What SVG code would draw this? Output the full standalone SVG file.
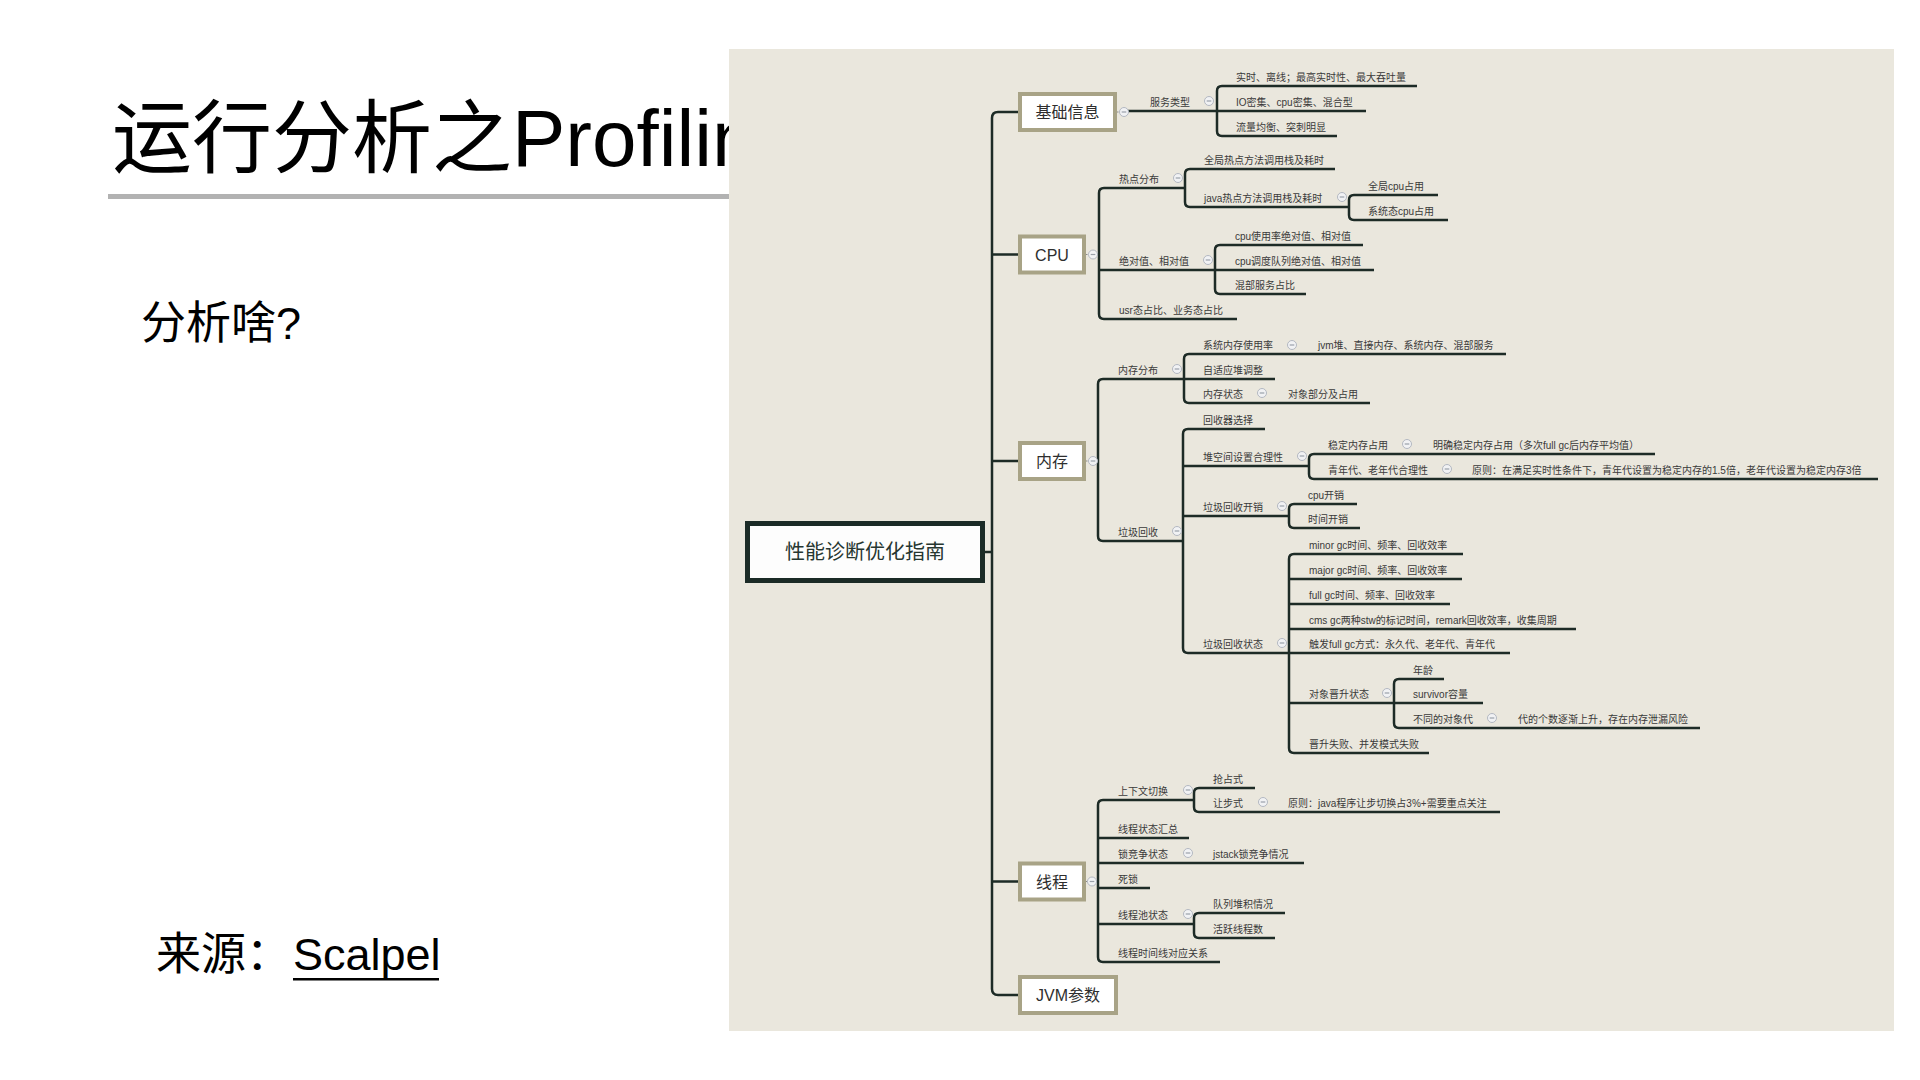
<svg xmlns="http://www.w3.org/2000/svg" xmlns:xlink="http://www.w3.org/1999/xlink" width="1920" height="1080" viewBox="0 0 1920 1080">
<style>
.f{font-family:"Liberation Sans","Noto Sans CJK SC",sans-serif}
.slide{fill:#000}
.t{font-family:"Liberation Sans","Noto Sans CJK SC",sans-serif;font-size:10px;fill:#3a3a3a}
.l1{font-family:"Liberation Sans","Noto Sans CJK SC",sans-serif;font-size:16px;fill:#2e2e2e;text-anchor:middle}
.ln{fill:none;stroke:#1d2b26;stroke-width:2.5}
.box{fill:#ffffff;stroke:#a8a386;stroke-width:4}
.dot{stroke:#8a8a8a;stroke-width:1;stroke-dasharray:1.5 1.5}
</style>
<defs>
<g id="c"><circle r="4.5" fill="#f1f2f4" stroke="#b3b8c1" stroke-width="1"/><path d="M-2.3,0H2.3" stroke="#9aa0a9" stroke-width="1.2"/></g>
</defs>
<rect width="1920" height="1080" fill="#ffffff"/>
<g id="slide-title">
<text class="f slide" x="112" y="166" font-size="80">运行分析之Profiling</text>
<rect x="108" y="194" width="621" height="5" fill="#b2b2b2"/>
</g>
<g id="slide-question"><text class="f slide" x="141" y="339" font-size="45">分析啥?</text></g>
<g id="slide-source">
<text class="f slide" x="156" y="970" font-size="45">来源：</text>
<text class="f slide" x="293" y="970" font-size="45">Scalpel</text>
<rect x="293" y="978" width="146" height="2.5" fill="#000"/>
</g>
<rect id="panel" x="729" y="49" width="1165" height="982" fill="#eae7dd"/>

<g id="connectors">
<path class="ln" d="M1018,112 H998 Q992,112 992,118 V989 Q992,995 998,995 H1018 M992,254.5 H1018 M992,461 H1018 M992,881.5 H1018 M985,552 H992"/>
<path class="dot" d="M1117,112 H1120 M1086,254.5 H1089 M1086,461 H1089 M1086,881.5 H1088"/>
<path class="ln" d="M1128,111 H1366 M1417,86 H1222 Q1217,86 1217,91 V131 Q1217,136 1222,136 H1337"/>
<path class="ln" d="M1097,254.5 H1099 M1185,188 H1104 Q1099,188 1099,193 V314 Q1099,319 1104,319 H1237 M1099,270 H1374 M1363,245 H1220 Q1215,245 1215,250 V289 Q1215,294 1220,294 H1306 M1335,169 H1190 Q1185,169 1185,174 V202 Q1185,207 1190,207 H1349 M1438,195 H1354 Q1349,195 1349,200 V215 Q1349,220 1354,220 H1448"/>
<path class="ln" d="M1097,461 H1098 M1184,379 H1103 Q1098,379 1098,384 V536 Q1098,541 1103,541 H1183 M1506,354 H1189 Q1184,354 1184,359 V398 Q1184,403 1189,403 H1370 M1184,379 H1275 M1265,429 H1188 Q1183,429 1183,434 V648 Q1183,653 1188,653 H1289 M1183,466 H1309 M1183,516 H1289 M1655,454 H1314 Q1309,454 1309,459 V474 Q1309,479 1314,479 H1878 M1357,504 H1294 Q1289,504 1289,509 V523 Q1289,528 1294,528 H1360 M1463,554 H1294 Q1289,554 1289,559 V748 Q1289,753 1294,753 H1429 M1289,579 H1462 M1289,604 H1450 M1289,629 H1576 M1289,653 H1510 M1289,703 H1394 M1444,679 H1399 Q1394,679 1394,684 V723 Q1394,728 1399,728 H1700 M1394,703 H1483"/>
<path class="ln" d="M1096,881.5 H1098 M1194,800 H1103 Q1098,800 1098,805 V957 Q1098,962 1103,962 H1220 M1098,838 H1189 M1098,863 H1304 M1098,888 H1150 M1098,924 H1194 M1255,788 H1199 Q1194,788 1194,793 V807 Q1194,812 1199,812 H1500 M1285,913 H1199 Q1194,913 1194,918 V933 Q1194,938 1199,938 H1275"/>
</g>

<g id="root">
<rect x="747.5" y="523.5" width="235" height="57" fill="#fdfdfd" stroke="#1b2b26" stroke-width="5"/>
<text class="f" x="865" y="559" font-size="20" fill="#263630" text-anchor="middle">性能诊断优化指南</text>
</g>

<g id="n-jichu"><rect class="box" x="1020" y="94" width="95" height="36"/><text class="l1" x="1067.5" y="118">基础信息</text><use xlink:href="#c" x="1124" y="112"/></g>
<g id="n-fuwu"><text class="t" x="1150" y="106">服务类型</text><use xlink:href="#c" x="1209" y="101"/></g>
<g id="n-shishi"><text class="t" x="1236" y="81">实时、离线；最高实时性、最大吞吐量</text></g>
<g id="n-io"><text class="t" x="1236" y="106">IO密集、cpu密集、混合型</text></g>
<g id="n-liuliang"><text class="t" x="1236" y="131">流量均衡、突刺明显</text></g>

<g id="n-cpu"><rect class="box" x="1020" y="236.5" width="64" height="36"/><text class="l1" x="1052" y="260.5">CPU</text><use xlink:href="#c" x="1093" y="254.5"/></g>
<g id="n-redian"><text class="t" x="1119" y="183">热点分布</text><use xlink:href="#c" x="1178" y="178"/></g>
<g id="n-quanju"><text class="t" x="1204" y="164">全局热点方法调用栈及耗时</text></g>
<g id="n-java"><text class="t" x="1204" y="202">java热点方法调用栈及耗时</text><use xlink:href="#c" x="1342" y="197"/></g>
<g id="n-qjcpu"><text class="t" x="1368" y="190">全局cpu占用</text></g>
<g id="n-xtcpu"><text class="t" x="1368" y="215">系统态cpu占用</text></g>
<g id="n-jdz"><text class="t" x="1119" y="265">绝对值、相对值</text><use xlink:href="#c" x="1208" y="260"/></g>
<g id="n-cpusyl"><text class="t" x="1235" y="240">cpu使用率绝对值、相对值</text></g>
<g id="n-cpudd"><text class="t" x="1235" y="265">cpu调度队列绝对值、相对值</text></g>
<g id="n-hunbu"><text class="t" x="1235" y="289">混部服务占比</text></g>
<g id="n-usr"><text class="t" x="1119" y="314">usr态占比、业务态占比</text></g>

<g id="n-neicun"><rect class="box" x="1020" y="443" width="64" height="36"/><text class="l1" x="1052" y="467">内存</text><use xlink:href="#c" x="1093" y="461"/></g>
<g id="n-ncfb"><text class="t" x="1118" y="374">内存分布</text><use xlink:href="#c" x="1177" y="369"/></g>
<g id="n-xtnc"><text class="t" x="1203" y="349">系统内存使用率</text><use xlink:href="#c" x="1292" y="345"/></g>
<g id="n-jvmdui"><text class="t" x="1318" y="349">jvm堆、直接内存、系统内存、混部服务</text></g>
<g id="n-zsy"><text class="t" x="1203" y="374">自适应堆调整</text></g>
<g id="n-nczt"><text class="t" x="1203" y="398">内存状态</text><use xlink:href="#c" x="1262" y="393"/></g>
<g id="n-dxbf"><text class="t" x="1288" y="398">对象部分及占用</text></g>
<g id="n-ljhs"><text class="t" x="1118" y="536">垃圾回收</text><use xlink:href="#c" x="1177" y="531"/></g>
<g id="n-hsqxz"><text class="t" x="1203" y="424">回收器选择</text></g>
<g id="n-dkj"><text class="t" x="1203" y="461">堆空间设置合理性</text><use xlink:href="#c" x="1302" y="456"/></g>
<g id="n-wdnc"><text class="t" x="1328" y="449">稳定内存占用</text><use xlink:href="#c" x="1407" y="444"/></g>
<g id="n-mqwd"><text class="t" x="1433" y="449">明确稳定内存占用（多次full gc后内存平均值）</text></g>
<g id="n-qnd"><text class="t" x="1328" y="474">青年代、老年代合理性</text><use xlink:href="#c" x="1447" y="469"/></g>
<g id="n-yuanze1"><text class="t" x="1472" y="474">原则：在满足实时性条件下，青年代设置为稳定内存的1.5倍，老年代设置为稳定内存3倍</text></g>
<g id="n-hskx"><text class="t" x="1203" y="511">垃圾回收开销</text><use xlink:href="#c" x="1282" y="506"/></g>
<g id="n-cpukx"><text class="t" x="1308" y="499">cpu开销</text></g>
<g id="n-sjkx"><text class="t" x="1308" y="523">时间开销</text></g>
<g id="n-hszt"><text class="t" x="1203" y="648">垃圾回收状态</text><use xlink:href="#c" x="1282" y="643"/></g>
<g id="n-minor"><text class="t" x="1309" y="549">minor gc时间、频率、回收效率</text></g>
<g id="n-major"><text class="t" x="1309" y="574">major gc时间、频率、回收效率</text></g>
<g id="n-full"><text class="t" x="1309" y="599">full gc时间、频率、回收效率</text></g>
<g id="n-cms"><text class="t" x="1309" y="624">cms gc两种stw的标记时间，remark回收效率，收集周期</text></g>
<g id="n-chufa"><text class="t" x="1309" y="648">触发full gc方式：永久代、老年代、青年代</text></g>
<g id="n-jszt"><text class="t" x="1309" y="698">对象晋升状态</text><use xlink:href="#c" x="1387" y="693"/></g>
<g id="n-nianling"><text class="t" x="1413" y="674">年龄</text></g>
<g id="n-survivor"><text class="t" x="1413" y="698">survivor容量</text></g>
<g id="n-btdx"><text class="t" x="1413" y="723">不同的对象代</text><use xlink:href="#c" x="1492" y="718"/></g>
<g id="n-dgs"><text class="t" x="1518" y="723">代的个数逐渐上升，存在内存泄漏风险</text></g>
<g id="n-jssb"><text class="t" x="1309" y="748">晋升失败、并发模式失败</text></g>

<g id="n-xiancheng"><rect class="box" x="1020" y="863.5" width="64" height="36"/><text class="l1" x="1052" y="887.5">线程</text><use xlink:href="#c" x="1092" y="881.5"/></g>
<g id="n-sxw"><text class="t" x="1118" y="795">上下文切换</text><use xlink:href="#c" x="1188" y="790"/></g>
<g id="n-qzs"><text class="t" x="1213" y="783">抢占式</text></g>
<g id="n-rbs"><text class="t" x="1213" y="807">让步式</text><use xlink:href="#c" x="1263" y="802"/></g>
<g id="n-yuanze2"><text class="t" x="1288" y="807">原则：java程序让步切换占3%+需要重点关注</text></g>
<g id="n-xczthz"><text class="t" x="1118" y="833">线程状态汇总</text></g>
<g id="n-sjz"><text class="t" x="1118" y="858">锁竞争状态</text><use xlink:href="#c" x="1188" y="853"/></g>
<g id="n-jstack"><text class="t" x="1213" y="858">jstack锁竞争情况</text></g>
<g id="n-sisuo"><text class="t" x="1118" y="883">死锁</text></g>
<g id="n-xccz"><text class="t" x="1118" y="919">线程池状态</text><use xlink:href="#c" x="1188" y="914"/></g>
<g id="n-dlduiji"><text class="t" x="1213" y="908">队列堆积情况</text></g>
<g id="n-hyxc"><text class="t" x="1213" y="933">活跃线程数</text></g>
<g id="n-sjx"><text class="t" x="1118" y="957">线程时间线对应关系</text></g>

<g id="n-jvm"><rect class="box" x="1020" y="977" width="96" height="36"/><text class="l1" x="1068" y="1001">JVM参数</text></g>
</svg>
